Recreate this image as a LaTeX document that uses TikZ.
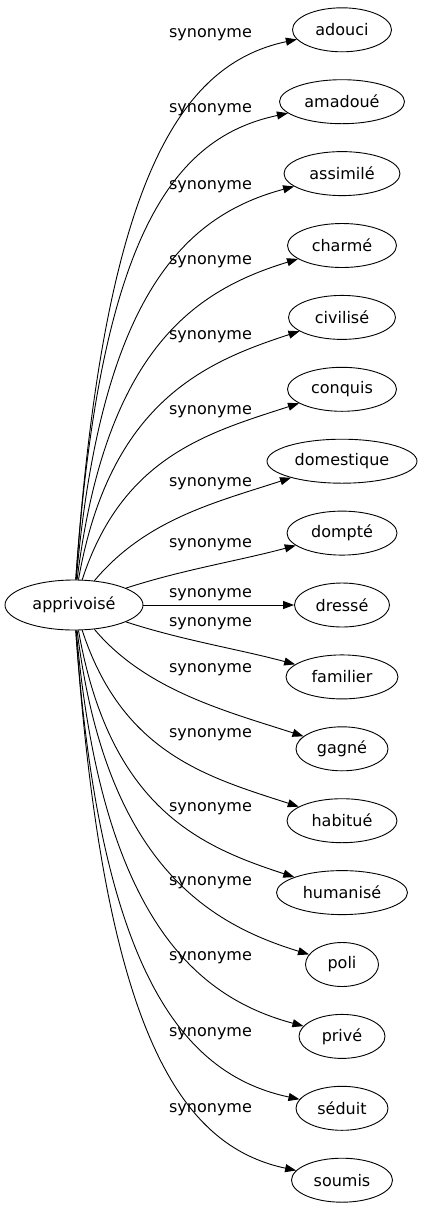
\documentclass[tikz,border=0pt]{standalone}
\usepackage{fontspec}
\setmainfont{DejaVu Sans}
\usetikzlibrary{shapes.geometric,arrows.meta}
\begin{document}
\begin{tikzpicture}[x=1pt,y=1pt,
  every node/.style={font=\fontsize{16pt}{19pt}\selectfont},
  word/.style={draw, ellipse, inner sep=0pt, minimum height=44pt, line width=0.9pt},
  hub/.style={draw, ellipse, inner sep=0pt, minimum width=138pt, minimum height=50pt, line width=0.9pt},
  rel/.style={inner sep=0pt},
  link/.style={line width=0.9pt, -{Triangle[length=11pt,width=8pt]}}]
\useasboundingbox (0,0) rectangle (422,-1211);
\node[hub] (c) at (74,-605) {apprivoisé};
\foreach \n/\t/\y/\w in {0/adouci/29.8/99, 1/amadoué/101.7/125, 2/assimilé/173.6/116,
  3/charmé/245.5/109, 4/civilisé/317.4/107, 5/conquis/389.3/109, 6/domestique/461.2/150,
  7/dompté/533.1/110, 8/dressé/605/95, 9/familier/676.9/112, 10/gagné/748.8/92,
  11/habitué/820.7/110, 12/humanisé/892.6/131, 13/poli/964.5/73, 14/privé/1036.4/86,
  15/séduit/1108.3/92, 16/soumis/1180.2/101}
  {\node[word, minimum width=\w pt] (t\n) at (342,-\y) {\t};}
\foreach \n/\y in {0/35, 1/110, 2/186.7, 3/261.7, 4/336.7, 5/411.7, 6/483.3, 7/545, 8/595,
  9/623.3, 10/670, 11/735, 12/808.3, 13/882.7, 14/957.3, 15/1034, 16/1110}
  {\node[rel] (l\n) at (210.5,-\y) {synonyme};}
\foreach \n/\o/\od/\i/\id in {0/86/400/192/120, 1/86/350/192/115, 2/85/290/195/110,
  3/83/235/197/105, 4/80/180/198/100, 5/72/130/198/95, 6/50/80/198/80, 7/18/60/195/60,
  9/-18/60/165/60, 10/-50/80/162/80, 11/-72/130/162/95, 12/-80/180/162/100,
  13/-83/235/163/105, 14/-85/290/165/110, 15/-86/350/168/115, 16/-86/400/168/120}
  {\draw[link] (c) to[out=\o, in=\i, out distance=\od pt, in distance=\id pt] (t\n);}
\draw[link] (c) -- (t8);
\end{tikzpicture}
\end{document}
